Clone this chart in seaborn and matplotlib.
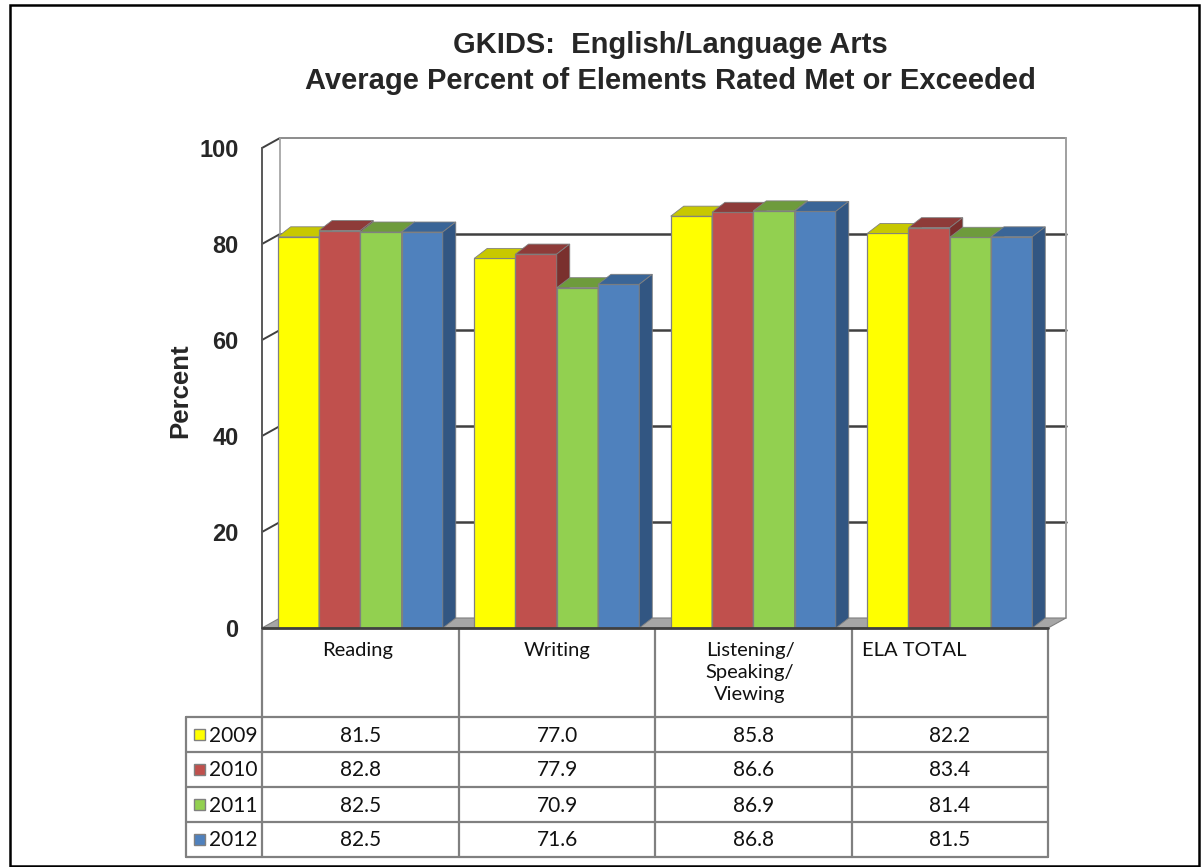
import matplotlib
matplotlib.use("Agg")
import matplotlib.pyplot as plt
import seaborn as sns
import pandas as pd
from matplotlib.patches import Polygon, Rectangle
from matplotlib.lines import Line2D

# ---------------- data ----------------
categories = ["Reading", "Writing", "Listening/\nSpeaking/\nViewing", "ELA TOTAL"]
years = ["2009", "2010", "2011", "2012"]
v2009 = [81.5, 77.0, 85.8, 82.2]
v2010 = [82.8, 77.9, 86.6, 83.4]
v2011 = [82.5, 70.9, 86.9, 81.4]
v2012 = [82.5, 71.6, 86.8, 81.5]
yticks = [0, 20, 40, 60, 80, 100]
title = "GKIDS:  English/Language Arts\nAverage Percent of Elements Rated Met or Exceeded"

front_colors = ["#FFFF00", "#C0504D", "#92D050", "#4F81BD"]
top_colors = ["#C8C800", "#8E3B39", "#6E9B3C", "#3A6597"]
side_colors = ["#A8A800", "#7A302E", "#5E8434", "#325682"]

series = [v2009, v2010, v2011, v2012]
rows = []
for y, vals in zip(years, series):
    for c, v in zip(categories, vals):
        rows.append({"Category": c, "Year": y, "Percent": v})
df = pd.DataFrame(rows)

# ---------------- figure ----------------
W, H = 1204, 867
sns.set_theme(style="white")
plt.rcParams["font.family"] = ["Liberation Sans", "DejaVu Sans"]
fig = plt.figure(figsize=(W / 100, H / 100), dpi=100)
fig.patch.set_facecolor("white")

# overlay axes in pixel coords (for border and table)
ov = fig.add_axes([0, 0, 1, 1], zorder=0)
ov.set_xlim(0, W)
ov.set_ylim(H, 0)
ov.axis("off")

# outer border
ov.add_patch(Rectangle((10, 5), 1189, 861, fill=False, edgecolor="black", lw=1.8))

# main plot axes
x0p, x1p, y0p, y1p = 262, 1048, 628, 148
ax = fig.add_axes([x0p / W, (H - y0p) / H, (x1p - x0p) / W, (y0p - y1p) / H], zorder=2)
ax.set_facecolor("none")

sns.barplot(data=df, x="Category", y="Percent", hue="Year", palette=front_colors,
            hue_order=years, order=categories, width=0.84, saturation=1,
            edgecolor="#808080", linewidth=0.9, legend=False, ax=ax, zorder=5)

ax.set_xlim(-0.5, 3.5)
ax.set_ylim(0, 100)
px_x = (x1p - x0p) / 4.0   # pixels per x unit
px_y = (y0p - y1p) / 100.0  # pixels per y unit

# 3D offsets in data units
wdx, wdy = 18 / px_x, 10 / px_y  # wall depth
bdx, bdy = 13 / px_x, 10 / px_y  # bar depth

# back wall
gl = "#404040"
for t in yticks[1:-1]:
    ax.add_line(Line2D([-0.5 + wdx, 3.5 + wdx], [t + wdy, t + wdy], color=gl, lw=1.8, zorder=1, clip_on=False))
for t in yticks[1:]:
    ax.add_line(Line2D([-0.5, -0.5 + wdx], [t, t + wdy], color=gl, lw=1.4, zorder=1, clip_on=False))
ax.add_line(Line2D([-0.5 + wdx, 3.5 + wdx], [100 + wdy, 100 + wdy], color="#8C8C8C", lw=1.4, zorder=1, clip_on=False))
ax.add_line(Line2D([-0.5 + wdx, -0.5 + wdx], [wdy, 100 + wdy], color="#A0A0A0", lw=1.2, zorder=1, clip_on=False))
ax.add_line(Line2D([3.5 + wdx, 3.5 + wdx], [wdy, 100 + wdy], color="#A0A0A0", lw=1.4, zorder=1, clip_on=False))
# floor
ax.add_patch(Polygon([(-0.5, 0), (3.5, 0), (3.5 + wdx, wdy), (-0.5 + wdx, wdy)], closed=True,
                     facecolor="#A6A6A6", edgecolor="#7F7F7F", lw=0.8, zorder=1.5, clip_on=False))
# front axis lines
ax.add_line(Line2D([-0.5, -0.5], [0, 100], color="#595959", lw=1.4, zorder=20, clip_on=False))
ax.add_line(Line2D([-0.5, 3.5], [0, 0], color="#404040", lw=2.0, zorder=20, clip_on=False))

# 3D bar faces
for i, cont in enumerate(ax.containers):
    for j, p in enumerate(cont.patches):
        z = 5 + (j * 4 + i) * 0.1
        bx, bw, bh = p.get_x(), p.get_width(), p.get_height()
        p.set_zorder(z)
        top = Polygon([(bx, bh), (bx + bw, bh), (bx + bw + bdx, bh + bdy), (bx + bdx, bh + bdy)],
                      closed=True, facecolor=top_colors[i], edgecolor="#808080", lw=0.6,
                      zorder=z, clip_on=False)
        side = Polygon([(bx + bw, 0), (bx + bw + bdx, bdy), (bx + bw + bdx, bh + bdy), (bx + bw, bh)],
                       closed=True, facecolor=side_colors[i], edgecolor="#808080", lw=0.6,
                       zorder=z, clip_on=False)
        ax.add_patch(top)
        ax.add_patch(side)

for s in ax.spines.values():
    s.set_visible(False)
ax.set_yticks(yticks)
ax.set_yticklabels([str(t) for t in yticks], fontsize=17, fontweight="bold")
ax.tick_params(axis="y", length=0, pad=17)
ax.set_xticks([])
ax.set_xlabel("")
ax.set_ylabel("")
fig.text(180 / W, 1 - 391 / H, "Percent", rotation=90, ha="center", va="center",
         fontsize=18.5, fontweight="bold")

# title
fig.text(670 / W, 1 - 63 / H, title, ha="center", va="center", fontsize=21,
         fontweight="bold", linespacing=1.4)

# ---------------- data table ----------------
tc = "#808080"
tlw = 1.6
col_x = [262, 459, 655, 852, 1048]
hdr_top, hdr_bot = 630, 717
row_h = 35
nrow = len(years)
tab_bot = hdr_bot + nrow * row_h
leg_left = 186
tfont = ["Lato", "DejaVu Sans"]

for x in col_x:
    ov.add_line(Line2D([x, x], [hdr_top, tab_bot], color=tc, lw=tlw))
ov.add_line(Line2D([leg_left, leg_left], [hdr_bot, tab_bot], color=tc, lw=tlw))
for r in range(nrow + 1):
    y = hdr_bot + r * row_h
    ov.add_line(Line2D([leg_left, col_x[-1]], [y, y], color=tc, lw=tlw))

hdr_cx = [358, 557, 750, 914]
for cx, lab in zip(hdr_cx, categories):
    ov.text(cx, 642, lab, ha="center", va="top", fontsize=14.5, family=tfont, linespacing=1.34, color="#111111")

for r, (yr, vals) in enumerate(zip(years, series)):
    cy = hdr_bot + r * row_h + row_h / 2
    ov.add_patch(Rectangle((194, cy - 5.5), 11, 11, facecolor=front_colors[r], edgecolor="#808080", lw=1.0))
    ov.text(209, cy + 1, yr, ha="left", va="center", fontsize=15, family=tfont, color="#111111")
    for c in range(4):
        cx = (col_x[c] + col_x[c + 1]) / 2
        ov.text(cx, cy + 1, f"{vals[c]:.1f}", ha="center", va="center", fontsize=15, family=tfont, color="#111111")

fig.savefig("out.png", dpi=100)
